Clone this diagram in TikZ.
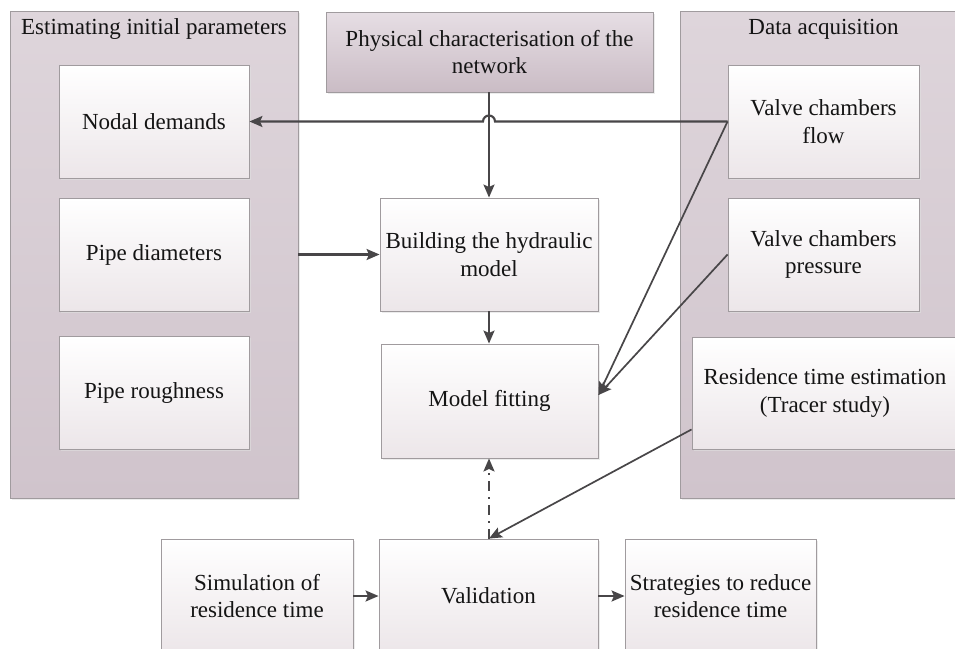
\documentclass[tikz,border=0pt]{standalone}
\usepackage{fontspec}
\setmainfont{Liberation Serif}
\usetikzlibrary{arrows.meta,shadows,calc}
\definecolor{linec}{RGB}{72,70,72}
\definecolor{boxedge}{RGB}{160,155,158}
\definecolor{contop}{RGB}{222,213,219}
\definecolor{conbot}{RGB}{208,196,204}
\definecolor{boxbot}{RGB}{236,230,233}
\definecolor{phystop}{RGB}{230,222,228}
\definecolor{physbot}{RGB}{202,188,197}
\definecolor{txt}{RGB}{20,20,20}
\tikzset{
  container/.style={draw=boxedge, line width=0.9pt, top color=contop, bottom color=conbot,
     drop shadow={shadow xshift=2pt, shadow yshift=-2pt, fill=black!12, opacity=0.6}},
  inbox/.style={draw=boxedge, line width=0.9pt, top color=white, bottom color=boxbot,
     drop shadow={shadow xshift=2pt, shadow yshift=-2pt, fill=black!12, opacity=0.6},
     align=center, text=txt, font=\fontsize{23}{27.6}\selectfont, inner sep=2pt},
  physbox/.style={inbox, top color=phystop, bottom color=physbot},
  ttl/.style={text=txt, font=\fontsize{23}{27.6}\selectfont, inner sep=0pt},
  arr/.style={draw=linec, line width=2.1pt, -{Stealth[length=13pt,width=11pt,inset=2.5pt]}},
  dline/.style={draw=linec, line width=1.7pt, -{Stealth[length=13pt,width=11pt,inset=2.5pt]}}
}
\begin{document}
\begin{tikzpicture}[x=1pt,y=-1pt]
\useasboundingbox (0,0) rectangle (955,648);
\fill[white] (0,0) rectangle (955,648);
\clip (0,0) rectangle (955,648);
% containers
\node[container, minimum width=288pt, minimum height=487pt] (leftC) at (154,254.5) {};
\node[ttl] (leftT) at (154,29) {Estimating initial parameters};
\node[container, minimum width=287pt, minimum height=487pt] (rightC) at (823.5,254.5) {};
\node[ttl] (rightT) at (823.5,29) {Data acquisition};
% left boxes
\node[inbox, minimum width=190pt, minimum height=113pt] (nodal) at (154,121.5) {Nodal demands};
\node[inbox, minimum width=190pt, minimum height=113pt] (diam) at (154,254.5) {Pipe diameters};
\node[inbox, minimum width=190pt, minimum height=113pt] (rough) at (154,392.5) {Pipe roughness};
% right boxes
\node[inbox, minimum width=191pt, minimum height=113pt] (flow) at (823.5,121.5) {Valve chambers\\flow};
\node[inbox, minimum width=191pt, minimum height=113pt] (press) at (823.5,254.5) {Valve chambers\\pressure};
\node[inbox, minimum width=266pt, minimum height=112pt] (resid) at (825,393) {Residence time estimation\\(Tracer study)};
% centre boxes
\node[physbox, minimum width=327pt, minimum height=80pt] (phys) at (489.5,52) {Physical characterisation of the\\network};
\node[inbox, minimum width=218pt, minimum height=113pt] (build) at (489,254.5) {Building the hydraulic\\model};
\node[inbox, minimum width=217pt, minimum height=114pt] (fit) at (489.5,401) {Model fitting};
% bottom boxes
\node[inbox, minimum width=192pt, minimum height=114pt] (sim) at (257,596) {Simulation of\\residence time};
\node[inbox, minimum width=219pt, minimum height=114pt] (valid) at (488.5,596) {Validation};
\node[inbox, minimum width=191pt, minimum height=114pt] (strat) at (720.5,596) {Strategies to reduce\\residence time};
% connectors
\coordinate (hop) at (build.north |- flow.west);
\draw[arr] (build.north |- phys.south) -- (build.north);
\draw[arr] (flow.west) -- ([xshift=6pt]hop) arc[start angle=0, end angle=180, radius=6pt] -- (nodal.east);
\draw[arr] (leftC.east |- build.west) -- (build.west);
\draw[arr] (build.south) -- (build.south |- fit.north);
\coordinate (fitin) at ([yshift=6pt]fit.east);
\draw[dline] (flow.west) -- (fitin);
\draw[dline] (press.west) -- (fitin);
\coordinate (residout) at ([yshift=20pt]resid.south west);
\coordinate (validin) at (build.south |- valid.north);
\draw[dline] (residout) -- (validin);
\draw[arr, dash pattern=on 10pt off 6pt on 2pt off 6pt] (validin) -- (validin |- fit.south);
\draw[arr] (sim.east) -- (valid.west);
\draw[arr] (valid.east) -- (strat.west);
\end{tikzpicture}
\end{document}
